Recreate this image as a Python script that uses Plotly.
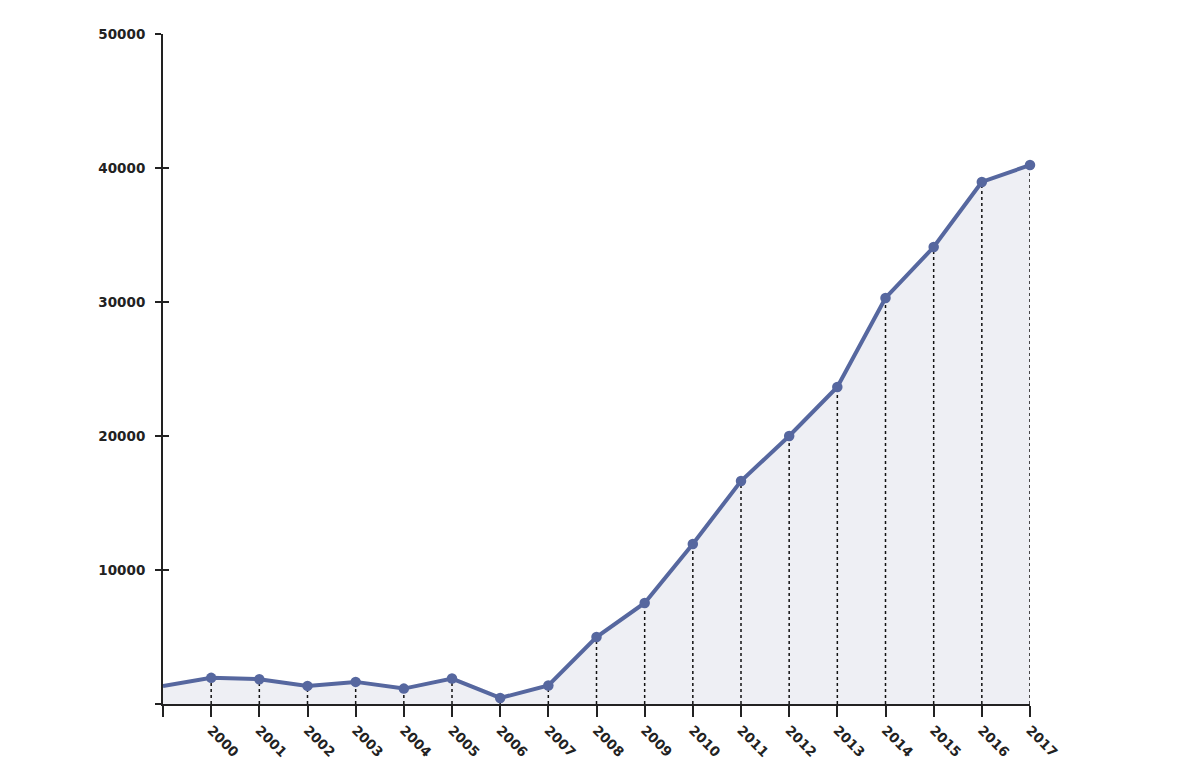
import plotly.graph_objects as go

years = list(range(1999, 2018))
values = [1350, 1950, 1850, 1350, 1650, 1150, 1900, 450, 1380, 5000, 7540,
          11940, 16640, 20000, 23660, 30300, 34100, 38960, 40220]
tick_years = list(range(1999, 2018))
tick_labels = [""] + [str(y) for y in range(2000, 2018)]
y_ticks = [0, 10000, 20000, 30000, 40000, 50000]
y_tick_labels = ["", "10000", "20000", "30000", "40000", "50000"]

line_color = "#56679f"
axis_color = "#222222"
font = dict(family="DejaVu Sans, sans-serif", size=13.5, color=axis_color, weight="bold")

# drop lines from each marked point to the axis
dx, dy = [], []
for x, v in zip(years[1:], values[1:]):
    dx += [x, x, None]
    dy += [0, v, None]

fig = go.Figure()
fig.add_trace(go.Scatter(x=years, y=values, mode="lines", fill="tozeroy",
                         fillcolor="#eeeff4", line=dict(color="rgba(0,0,0,0)", width=0),
                         hoverinfo="skip", showlegend=False))
fig.add_trace(go.Scatter(x=dx, y=dy, mode="lines",
                         line=dict(color="#111111", width=1.5, dash="dot"),
                         hoverinfo="skip", showlegend=False))
fig.add_trace(go.Scatter(x=years, y=values, mode="lines+markers",
                         line=dict(color=line_color, width=4),
                         marker=dict(color=line_color, opacity=1,
                                     size=[0] + [10.5] * (len(years) - 1),
                                     line=dict(width=0)),
                         cliponaxis=False, showlegend=False))
# invisible trace so the overlay axis (inner halves of the crossing y ticks) is drawn
fig.add_trace(go.Scatter(x=[years[0]], y=[y_ticks[0]], yaxis="y2", mode="markers",
                         marker=dict(opacity=0), hoverinfo="skip", showlegend=False))

fig.update_layout(
    width=1200, height=783,
    margin=dict(l=155, r=178, t=26, b=87, autoexpand=False),
    plot_bgcolor="white", paper_bgcolor="white",
    font=font,
    xaxis=dict(range=[1999, 2017], tickmode="array", tickvals=tick_years, ticktext=tick_labels,
               tickangle=45, ticks="outside", ticklen=11, tickwidth=2, tickcolor=axis_color,
               showline=True, linecolor=axis_color, linewidth=2, showgrid=False, zeroline=False,
               tickfont=font, automargin=False),
    yaxis=dict(range=[0, 50000], tickmode="array", tickvals=y_ticks, ticktext=y_tick_labels,
               ticks="outside", ticklen=6, tickwidth=2, tickcolor=axis_color,
               showline=True, linecolor=axis_color, linewidth=2, showgrid=False, zeroline=False,
               tickfont=font, ticklabelstandoff=7, automargin=False),
    yaxis2=dict(range=[0, 50000], overlaying="y", anchor="x", side="left",
                tickmode="array", tickvals=y_ticks, ticks="inside", ticklen=6, tickwidth=2,
                tickcolor=axis_color, showticklabels=False, showline=False, showgrid=False,
                zeroline=False, automargin=False),
)

fig.write_html("out.html")
